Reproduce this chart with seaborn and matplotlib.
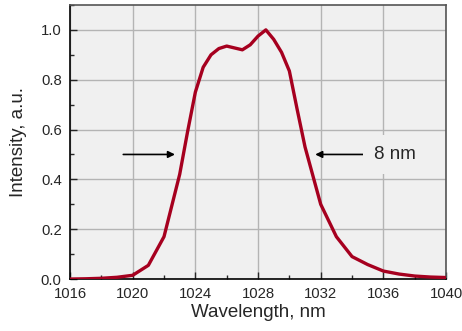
import numpy as np
import pandas as pd
import matplotlib
matplotlib.use('Agg')
import matplotlib.pyplot as plt
import seaborn as sns
from matplotlib.ticker import MultipleLocator

# spectrum
wavelength = [1016, 1017, 1018, 1019, 1020, 1021, 1022, 1023, 1023.5, 1024, 1024.5,
              1025, 1025.5, 1026, 1027, 1027.5, 1028, 1028.5, 1029, 1029.5, 1030,
              1030.5, 1031, 1032, 1033, 1034, 1035, 1036, 1037, 1038, 1039, 1040]
intensity = [0.0, 0.001, 0.003, 0.007, 0.015, 0.055, 0.17, 0.42, 0.59, 0.75, 0.85,
             0.90, 0.925, 0.935, 0.92, 0.94, 0.975, 1.0, 0.962, 0.91, 0.835,
             0.68, 0.53, 0.30, 0.17, 0.09, 0.058, 0.032, 0.02, 0.012, 0.008, 0.006]

fwhm_label = '8 nm'
arrow_y = 0.5

df = pd.DataFrame({'Wavelength': wavelength, 'Intensity': intensity})

bg = '#f0f0f0'
sns.set_style('ticks', {'axes.facecolor': bg})
plt.rcParams['font.family'] = ['Liberation Sans', 'DejaVu Sans']

fig = plt.figure(figsize=(4.62, 3.31), dpi=100)
ax = fig.add_axes([0.1515, 0.157, 0.814, 0.828])

ax.grid(True, color='#b4b4b4', linewidth=1.0)
ax.set_axisbelow(True)

sns.lineplot(data=df, x='Wavelength', y='Intensity', ax=ax,
             color='#a6001f', linewidth=2.4, zorder=3)

ax.set_xlim(1016, 1040)
ax.set_ylim(0, 1.1)
ax.xaxis.set_major_locator(MultipleLocator(4))
ax.xaxis.set_minor_locator(MultipleLocator(2))
ax.yaxis.set_major_locator(MultipleLocator(0.2))
ax.yaxis.set_minor_locator(MultipleLocator(0.1))
ax.yaxis.set_major_formatter(plt.FormatStrFormatter('%.1f'))

ax.tick_params(which='major', direction='in', length=5, width=1, labelsize=10.7,
               top=False, right=False)
ax.tick_params(axis='x', which='major', pad=6)
ax.tick_params(axis='y', which='major', pad=6)
ax.tick_params(which='minor', direction='in', length=3, width=1,
               top=False, right=False)

for side in ['left', 'bottom']:
    ax.spines[side].set_color('black')
    ax.spines[side].set_linewidth(1.2)
for side in ['top', 'right']:
    ax.spines[side].set_visible(True)
    ax.spines[side].set_color('#555555')
    ax.spines[side].set_linewidth(1.2)

ax.set_xlabel('Wavelength, nm', fontsize=13.5, labelpad=2)
ax.set_ylabel('Intensity, a.u.', fontsize=13.5, labelpad=10)

# FWHM arrows
ax.annotate('', xy=(1022.7, arrow_y), xytext=(1019.4, arrow_y),
            arrowprops=dict(arrowstyle='-|>', color='black', lw=1.2,
                            mutation_scale=10, shrinkA=0, shrinkB=0), zorder=4)
ax.annotate('', xy=(1031.65, arrow_y), xytext=(1034.7, arrow_y),
            arrowprops=dict(arrowstyle='-|>', color='black', lw=1.2,
                            mutation_scale=10, shrinkA=0, shrinkB=0), zorder=4)
ax.text(1035.4, arrow_y, fwhm_label, fontsize=13.5, va='center', ha='left',
        bbox=dict(facecolor=bg, edgecolor='none', pad=8), zorder=4)

fig.savefig('out.png', dpi=100)
